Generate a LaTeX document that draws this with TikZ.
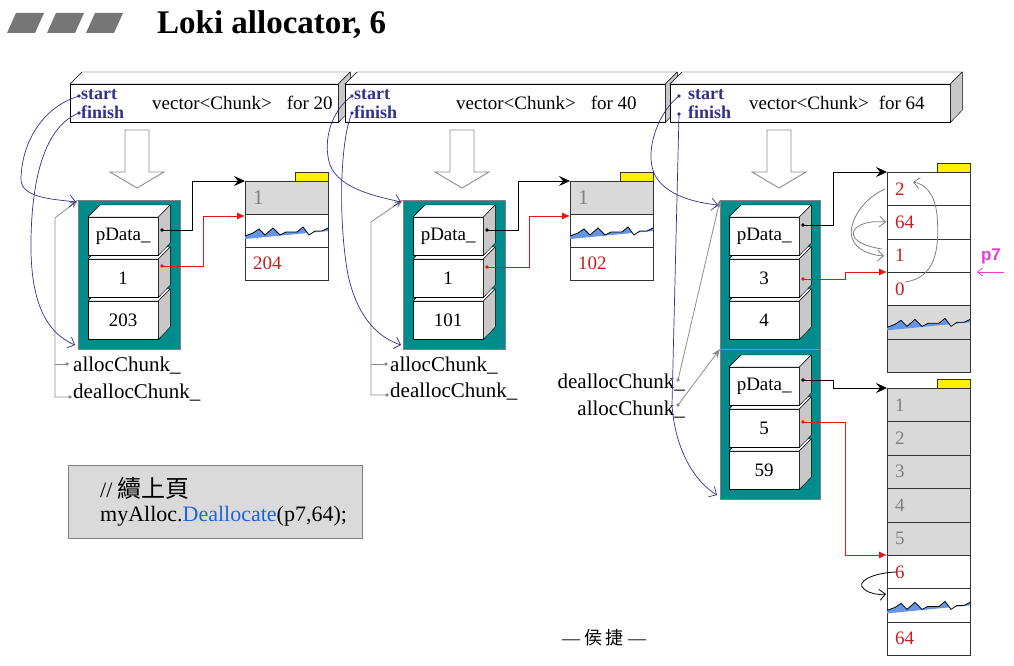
\documentclass[tikz,border=0pt]{standalone}
\usepackage{fontspec}
\setmainfont{Liberation Serif}
\newfontfamily\cjkfont{Noto Sans CJK TC}
\newfontfamily\sansfont{Liberation Sans}
\usetikzlibrary{arrows.meta}
\newcommand{\fs}[1]{\fontsize{#1}{#1}\selectfont}
\definecolor{teal2}{RGB}{0,140,140}
\definecolor{navy2}{RGB}{50,50,140}
\definecolor{sidegrey}{RGB}{200,200,200}
\definecolor{rowgrey}{RGB}{217,217,217}
\definecolor{red2}{RGB}{200,30,30}
\definecolor{arrred}{RGB}{230,20,20}
\definecolor{mag}{RGB}{230,60,220}
\definecolor{wblue}{RGB}{100,150,230}
\definecolor{yel}{RGB}{255,240,0}
\definecolor{titlegrey}{RGB}{118,118,118}
\definecolor{codeblue}{RGB}{30,100,220}
\definecolor{gline}{RGB}{140,140,140}
\definecolor{codegrey}{RGB}{218,218,218}
\newcommand{\mycube}[4]{%
  \node[boxfront] (#1) at (#2,#3) {#4};
  \draw[fill=white] (#1.north west) -- ++(12,-12) -- ++(70,0) -- (#1.north east) -- cycle;
  \draw[fill=sidegrey] (#1.north east) -- ++(12,-12) -- ++(0,38) -- (#1.south east) -- cycle;
}
\newcommand{\myvbar}[3]{%
  \node[vbarst, minimum width=#3pt] (#1) at (#2,84) {};
  \draw[fill=white] (#1.north west) -- ++(12,-12) -- ++(#3,0) -- (#1.north east) -- cycle;
  \draw[fill=sidegrey] (#1.north east) -- ++(12,-12) -- ++(0,38) -- (#1.south east) -- cycle;
}
\newcommand{\hollowarrow}[1]{%
  \draw[gline, fill=white, line width=0.9pt] (#1-12,130) -- (#1+12,130) -- (#1+12,172) -- (#1+27,172) -- (#1,188) -- (#1-27,172) -- (#1-12,172) -- cycle;
}
\newcommand{\wave}[2]{%
  \begin{scope}[shift={(#1,#2)}]
   \begin{scope}
    \clip (0,22) -- (8,19) -- (14,15) -- (20,21) -- (28,14) -- (35,21) -- (41,18) -- (52,18) -- (58,13) -- (64,21) -- (70,17) -- (77,17) -- (83,14) -- (83,33) -- (0,33) -- cycle;
    \fill[wblue] (0,0) -- (83,0) -- (83,17) -- (0,25) -- cycle;
   \end{scope}
   \draw[line width=0.8pt] (0,22) -- (8,19) -- (14,15) -- (20,21) -- (28,14) -- (35,21) -- (41,18) -- (52,18) -- (58,13) -- (64,21) -- (70,17) -- (77,17) -- (83,14);
  \end{scope}}
\begin{document}
\begin{tikzpicture}[x=1pt,y=-1pt,
  boxfront/.style={draw, fill=white, minimum width=70pt, minimum height=38pt, inner sep=0pt, anchor=north west, font=\fs{19}},
  vbarst/.style={draw, fill=white, minimum height=38pt, inner sep=0pt, anchor=north west},
  tealst/.style={draw=gray, fill=teal2, anchor=north west, inner sep=0pt, line width=0.8pt},
  memrow/.style={draw=black!80, minimum width=83pt, minimum height=#1, anchor=north west, inner xsep=8pt, inner ysep=0pt, text width=67pt, align=left, font=\fs{19}},
  memrow/.default=33pt,
  tabst/.style={draw=black!80, fill=yel, minimum width=33pt, minimum height=9pt, inner sep=0pt, anchor=south east},
  sf/.style={anchor=west, inner sep=0pt, text=navy2, font=\bfseries\fs{18}},
  vt/.style={anchor=west, inner sep=0pt, font=\fs{19}},
  lbl/.style={inner sep=0pt, font=\fs{21}},
  bconn/.style={draw=black, line width=0.8pt, -{Stealth[length=11pt,width=10pt,inset=4pt]}},
  rconn/.style={draw=arrred, line width=0.8pt, -{Latex[length=8pt,width=7pt]}},
  bcurve/.style={draw=navy2, line width=0.7pt, -{Straight Barb[length=6pt,width=12pt]}},
  gconn/.style={draw=gline, line width=0.8pt, -{Stealth[length=9pt,width=7pt]}},
  gcurve/.style={draw=gray, line width=0.8pt, -{Straight Barb[length=6pt,width=11pt]}},
  kcurve/.style={draw=black, line width=0.8pt, -{Straight Barb[length=6pt,width=11pt]}},
  magarrow/.style={draw=mag, line width=0.8pt, -{Straight Barb[length=5pt,width=8pt]}}
]
\useasboundingbox (0,0) rectangle (1014,666);
\fill[white] (0,0) rectangle (1014,666);

% title
\foreach \x in {7,47,86} \fill[titlegrey] (\x,33) -- (\x+9,13) -- (\x+37,13) -- (\x+28,33) -- cycle;
\node[anchor=west, inner sep=0pt, font=\bfseries\fs{33}] (title) at (157,25) {Loki allocator, 6};

% vector bars
\myvbar{v1}{70}{268}
\myvbar{v2}{345}{320}
\myvbar{v3}{670}{280}

\coordinate (s1) at (79,96); \coordinate (f1) at (79,113);
\coordinate (s2) at (352,96); \coordinate (f2) at (352,113);
\coordinate (s3) at (679,96); \coordinate (f3) at (679,114);
\foreach \c in {s1,f1,s2,f2,s3,f3} \fill[navy2] (\c) circle (1.8);
\node[sf] (s1t) at (81,95) {start};
\node[sf] (f1t) at (81,112) {finish};
\node[sf] (s2t) at (354,95) {start};
\node[sf] (f2t) at (354,112) {finish};
\node[sf] (s3t) at (688,95) {start};
\node[sf] (f3t) at (688,112) {finish};
\node[vt] (v1t) at (152,103) {vector<Chunk>\hspace{15pt}for 20};
\node[vt] (v2t) at (456,103) {vector<Chunk>\hspace{15pt}for 40};
\node[vt] (v3t) at (749,103) {vector<Chunk>\hspace{10pt}for 64};

% hollow arrows
\hollowarrow{137}
\hollowarrow{462}
\hollowarrow{779}

% teal blocks
\node[tealst, minimum width=102pt, minimum height=149pt] (t1) at (78,200) {};
\node[tealst, minimum width=102pt, minimum height=149pt] (t2) at (403,200) {};
\node[tealst, minimum width=100pt, minimum height=299pt] (t3) at (720,200) {};
\coordinate (t3b) at (720,349);
\draw[gline, line width=0.8pt] (t3b) -- (820,349);

% chunk boxes
\mycube{b13}{88}{301}{203}
\mycube{b12}{88}{259}{1}
\mycube{b11}{88}{217}{pData\_}
\mycube{b23}{413}{301}{101}
\mycube{b22}{413}{259}{1}
\mycube{b21}{413}{217}{pData\_}
\mycube{b33}{729}{301}{4}
\mycube{b32}{729}{259}{3}
\mycube{b31}{729}{217}{pData\_}
\mycube{b43}{729}{451}{59}
\mycube{b42}{729}{409}{5}
\mycube{b41}{729}{367}{pData\_}

% memory blocks
\node[memrow, fill=rowgrey, text=gray, font=\fs{21}] (m1a) at (245,181) {1};
\node[memrow, fill=white] (m1b) at (245,214) {};
\node[memrow, fill=white, text=red2] (m1c) at (245,247) {204};
\wave{245}{214}
\node[tabst] (m1t) at (m1a.north east) {};

\node[memrow, fill=rowgrey, text=gray, font=\fs{21}] (m2a) at (570,181) {1};
\node[memrow, fill=white] (m2b) at (570,214) {};
\node[memrow, fill=white, text=red2] (m2c) at (570,247) {102};
\wave{570}{214}
\node[tabst] (m2t) at (m2a.north east) {};

\node[memrow=33.33pt, fill=white, text=red2] (m3a) at (887,172) {2};
\node[memrow=33.33pt, fill=white, text=red2] (m3b) at (887,205.33) {64};
\node[memrow=33.33pt, fill=white, text=red2] (m3c) at (887,238.67) {1};
\node[memrow=33.33pt, fill=white, text=red2] (m3d) at (887,272) {0};
\node[memrow=33.33pt, fill=rowgrey] (m3e) at (887,305.33) {};
\node[memrow=33.33pt, fill=rowgrey] (m3f) at (887,338.67) {};
\wave{887}{305.33}
\node[tabst] (m3t) at (m3a.north east) {};

\node[memrow=33.4pt, fill=rowgrey, text=gray] (m4a) at (887,388) {1};
\node[memrow=33.4pt, fill=rowgrey, text=gray] (m4b) at (887,421.4) {2};
\node[memrow=33.4pt, fill=rowgrey, text=gray] (m4c) at (887,454.8) {3};
\node[memrow=33.4pt, fill=rowgrey, text=gray] (m4d) at (887,488.2) {4};
\node[memrow=33.4pt, fill=rowgrey, text=gray] (m4e) at (887,521.6) {5};
\node[memrow=33.4pt, fill=white, text=red2] (m4f) at (887,555) {6};
\node[memrow=33.4pt, fill=white] (m4g) at (887,588.4) {};
\node[memrow=33.4pt, fill=white, text=red2] (m4h) at (887,621.8) {64};
\wave{887}{588.4}
\node[tabst] (m4t) at (m4a.north east) {};

% pointer dots
\coordinate (p1) at (162,230); \coordinate (r1) at (162,266);
\coordinate (p2) at (487,230); \coordinate (r2) at (487,267);
\coordinate (p3) at (803,225); \coordinate (r3) at (803,279);
\coordinate (p4) at (803,380); \coordinate (r4) at (803,422);
\coordinate (m1r) at (245,216); \coordinate (m2r) at (570,216);
\draw[bconn] (p1) -- (192,230) -- (192,181) -- (m1a.north west);
\draw[rconn] (r1) -- (203,266) -- (203,216) -- (m1r);
\draw[bconn] (p2) -- (518,230) -- (518,181) -- (m2a.north west);
\draw[rconn] (r2) -- (529,267) -- (529,216) -- (m2r);
\draw[bconn] (p3) -- (833,225) -- (833,172) -- (m3a.north west);
\draw[rconn] (r3) -- (845,279) -- (845,272) -- (m3d.north west);
\draw[bconn] (p4) -- (833,380) -- (833,388) -- (m4a.north west);
\draw[rconn] (r4) -- (845,422) -- (845,555) -- (m4f.north west);
\foreach \c in {p1,p2,p3,p4} \fill[black] (\c) circle (1.8);
\foreach \c in {r1,r2,r3,r4} \fill[arrred] (\c) circle (1.8);

% memory internal links
\draw[gcurve] (885,189) .. controls (860,200) and (848,225) .. (852,238) .. controls (856,250) and (870,255) .. (884,256);
\draw[gcurve] (882,249) .. controls (862,246) and (848,238) .. (855,229) .. controls (862,222) and (874,221) .. (886,222);
\draw[gcurve] (905,282) .. controls (935,278) and (940,250) .. (937,215) .. controls (935,195) and (926,184) .. (913,182);
\draw[kcurve] (896,572) .. controls (872,573) and (855,582) .. (864,589) .. controls (870,594) and (878,595) .. (886,594);

% p7
\node[font=\sansfont\bfseries\fs{17}, text=mag, inner sep=0pt] (p7) at (991,256) {p7};
\coordinate (p7s) at (1004,272); \coordinate (p7e) at (977,272);
\draw[magarrow] (p7s) -- (p7e);

% alloc / dealloc labels
\node[lbl, anchor=west] (a1t) at (73,366) {allocChunk\_};
\node[lbl, anchor=west] (d1t) at (73,393) {deallocChunk\_};
\coordinate (a1) at (67,364); \coordinate (d1) at (70,397);
\draw[gline, line width=0.8pt] (a1) -- (55,364);
\draw[gconn] (d1) -- (55,397) -- (55,218) -- (t1.north west);

\node[lbl, anchor=west] (a2t) at (390,366) {allocChunk\_};
\node[lbl, anchor=west] (d2t) at (390,392) {deallocChunk\_};
\coordinate (a2) at (386,364); \coordinate (d2) at (387,395);
\draw[gline, line width=0.8pt] (a2) -- (371,364);
\draw[gconn] (d2) -- (371,395) -- (371,222) -- (t2.north west);

\node[lbl, anchor=east] (d3t) at (685,383) {deallocChunk\_};
\node[lbl, anchor=east] (a3t) at (685,410) {allocChunk\_};
\coordinate (d3) at (678,380); \coordinate (a3) at (678,405);
\draw[gconn] (d3) -- (t3.north west);
\draw[gconn] (a3) -- (t3b);
\foreach \c in {a1,d1,a2,d2,d3,a3} \fill[gline] (\c) circle (1.8);

% start / finish curves
\coordinate (t1in) at (76,202); \coordinate (t1out) at (75,345);
\coordinate (t2in) at (401,202); \coordinate (t2out) at (401,345);
\coordinate (t3in) at (718,205); \coordinate (t3out) at (717,495);
\draw[bcurve] (s1) .. controls (40,108) and (22,145) .. (21,178) .. controls (20,198) and (52,199) .. (t1in);
\draw[bcurve] (f1) .. controls (48,125) and (32,170) .. (31,240) .. controls (30,300) and (45,332) .. (t1out);
\draw[bcurve] (s2) .. controls (332,110) and (322,140) .. (330,165) .. controls (340,190) and (380,197) .. (t2in);
\draw[bcurve] (f2) .. controls (340,140) and (338,220) .. (348,275) .. controls (358,320) and (380,338) .. (t2out);
\draw[bcurve] (s3) .. controls (655,115) and (642,160) .. (658,180) .. controls (672,198) and (700,203) .. (t3in);
\draw[bcurve] (f3) -- (672,405) .. controls (675,450) and (695,482) .. (t3out);

% code box
\node[draw=gray, fill=codegrey, line width=0.8pt, minimum width=294pt, minimum height=73pt, anchor=north west, inner sep=0pt] (code) at (68,465) {};
\node[anchor=west, inner sep=0pt, font=\fs{22}] (code1) at (100,488) {// {\cjkfont\fs{24}續上頁}};
\node[anchor=west, inner sep=0pt, font=\fs{22}] (code2) at (100,516) {myAlloc.\textcolor{codeblue}{Deallocate}(p7,64);};

% footer
\node[inner sep=0pt, font=\fs{18}] (footer) at (604,638) {— {\cjkfont 侯\,捷} —};
\end{tikzpicture}
\end{document}
